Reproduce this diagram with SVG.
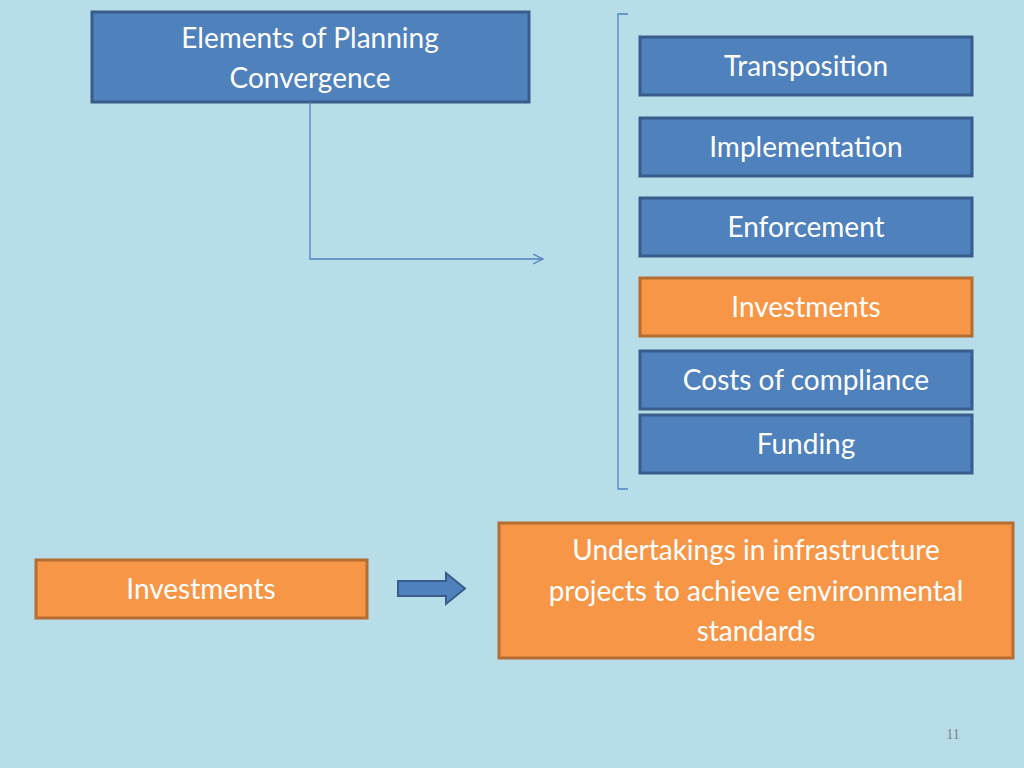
<svg xmlns="http://www.w3.org/2000/svg" width="1024" height="768" viewBox="0 0 1024 768">
<style>
.b{fill:#4f81bd;stroke:#385d8a;stroke-width:3}
.o{fill:#f79646;stroke:#b66d31;stroke-width:3}
text{font-family:Lato,"Open Sans","Liberation Sans",sans-serif;font-size:28px;fill:#fff;text-anchor:middle}
</style>
<defs><marker id="a" markerWidth="12" markerHeight="12" refX="10" refY="5" orient="auto" markerUnits="userSpaceOnUse"><path d="M0,0 L10,5 L0,10" fill="none" stroke="#4f81bd" stroke-width="1.3"/></marker></defs>
<rect width="1024" height="768" fill="#b7dee8"/>
<g id="elements"><rect class="b" x="92" y="12" width="437" height="90"/><text x="310" y="48">Elements of Planning</text><text x="310" y="88">Convergence</text></g>
<g id="connectors">
<path d="M310,102 V259 H543" fill="none" stroke="#4f81bd" stroke-width="1.3" marker-end="url(#a)"/>
<path d="M628,14 H618 V489 H628" fill="none" stroke="#4f81bd" stroke-width="1.3"/>
<path d="M398,581 H446 V573 L465,588.5 L446,604 V596 H398 Z" fill="#4f81bd" stroke="#385d8a" stroke-width="2"/>
</g>
<g id="transposition"><rect class="b" x="640" y="37" width="332" height="58"/><text x="806" y="76">Transposition</text></g>
<g id="implementation"><rect class="b" x="640" y="118" width="332" height="58"/><text x="806" y="157">Implementation</text></g>
<g id="enforcement"><rect class="b" x="640" y="198" width="332" height="58"/><text x="806" y="237">Enforcement</text></g>
<g id="investments1"><rect class="o" x="640" y="278" width="332" height="58"/><text x="806" y="317">Investments</text></g>
<g id="costs"><rect class="b" x="640" y="351" width="332" height="58"/><text x="806" y="390">Costs of compliance</text></g>
<g id="funding"><rect class="b" x="640" y="415" width="332" height="58"/><text x="806" y="454">Funding</text></g>
<g id="investments2"><rect class="o" x="36" y="560" width="331" height="58"/><text x="201" y="599">Investments</text></g>
<g id="undertakings"><rect class="o" x="499" y="523" width="514" height="135"/><text x="756" y="560">Undertakings in infrastructure</text><text x="756" y="601">projects to achieve environmental</text><text x="756" y="641">standards</text></g>
<text x="953" y="739" style="font-family:'Liberation Serif',serif;font-size:14px;fill:#7f7f7f">11</text>
</svg>
